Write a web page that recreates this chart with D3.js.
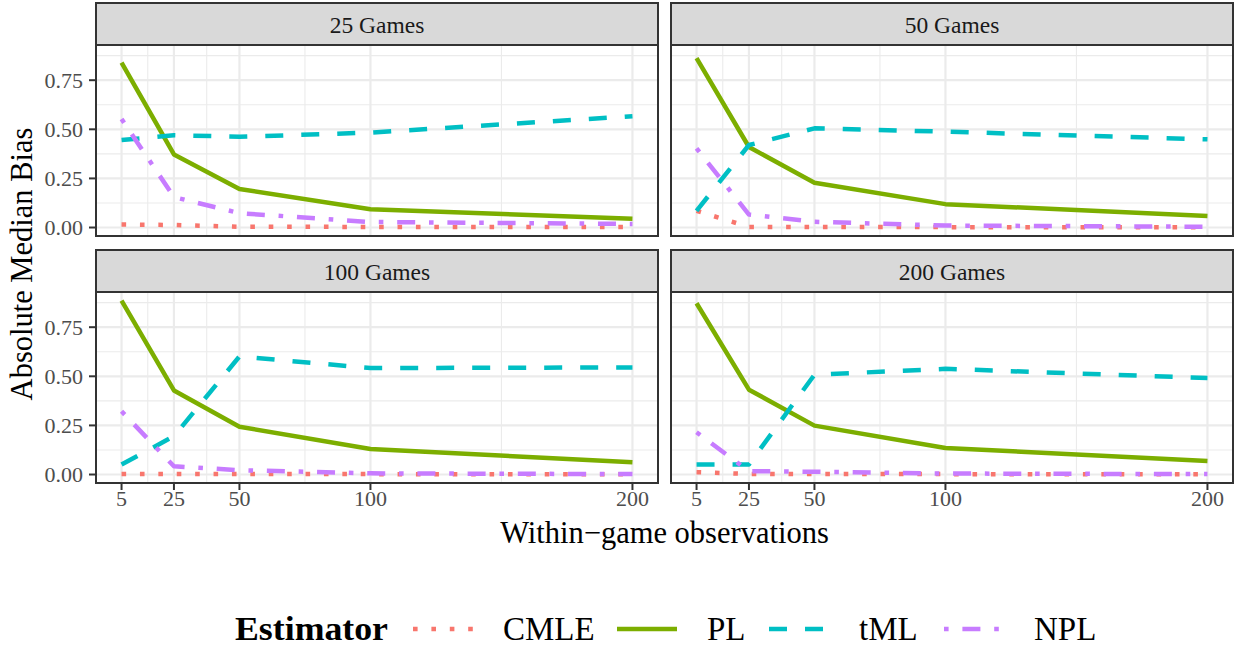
<!DOCTYPE html>
<html>
<head>
<meta charset="utf-8">
<script src="https://cdn.jsdelivr.net/npm/d3@7"></script>
<style>
body { margin: 0; background: #fff; }
svg { display: block; font-family: "Liberation Serif", "DejaVu Serif", serif; }
</style>
</head>
<body>
<svg></svg>
<script>
let obs = [5, 25, 50, 100, 200]
let games = ["25 Games", "50 Games", "100 Games", "200 Games"]
let estimators = ["CMLE", "PL", "tML", "NPL"]

// one row per panel (25, 50, 100, 200 games), one value per obs
let cmle = [
  [0.015, 0.013, 0.004, 0.003, 0.003],
  [0.085, 0.003, 0.002, 0.002, 0.001],
  [0.003, 0.003, 0.002, 0.002, 0.001],
  [0.012, 0.003, 0.002, 0.002, 0.001]
]
let pl = [
  [0.840, 0.372, 0.196, 0.093, 0.045],
  [0.862, 0.410, 0.228, 0.119, 0.058],
  [0.885, 0.428, 0.243, 0.130, 0.062],
  [0.872, 0.432, 0.249, 0.135, 0.069]
]
let tml = [
  [0.445, 0.470, 0.462, 0.483, 0.567],
  [0.085, 0.420, 0.505, 0.488, 0.449],
  [0.051, 0.195, 0.601, 0.542, 0.545],
  [0.051, 0.051, 0.508, 0.538, 0.491]
]
let npl = [
  [0.553, 0.155, 0.073, 0.028, 0.018],
  [0.403, 0.066, 0.029, 0.010, 0.004],
  [0.322, 0.042, 0.022, 0.006, 0.002],
  [0.215, 0.017, 0.014, 0.005, 0.002]
]
let seriesValues = [cmle, pl, tml, npl]

let xBreaks = [5, 25, 50, 100, 200]
let xMinor = [15, 37.5, 75, 150]
let yBreaks = [0, 0.25, 0.5, 0.75]
let yMinor = [0.125, 0.375, 0.625, 0.875]
let yLabels = ["0.00", "0.25", "0.50", "0.75"]

let width = 1236
let height = 648
let colLeft = [96, 671]
let rowTop = [3, 250]
let panelW = 562
let stripH = 42
let panelH = 191

let colors = {CMLE: "#F8766D", PL: "#7CAE00", tML: "#00BFC4", NPL: "#C77CFF"}
let lw = 4.5
let dashes = {CMLE: "4.6,13.8", PL: null, tML: "18,18", NPL: "4.6,13.8,18,13.8"}

let svg = d3.select("svg").attr("width", width).attr("height", height)

let expand = (lo, hi) => { let d = (hi - lo) * 0.05; return [lo - d, hi + d] }

let allVals = seriesValues.flat(2)
let x = d3.scaleLinear().domain(expand(d3.min(obs), d3.max(obs))).range([0, panelW])
let y = d3.scaleLinear().domain(expand(d3.min(allVals), d3.max(allVals))).range([panelH, 0])

let line = d3.line().x((d, i) => x(obs[i])).y(d => y(d))

games.forEach((g, gi) => {
  let col = gi % 2, row = Math.floor(gi / 2)
  let px = colLeft[col], top = rowTop[row]
  let py = top + stripH

  // strip
  let strip = svg.append("g").attr("transform", `translate(${px},${top})`)
  strip.append("rect").attr("width", panelW).attr("height", stripH)
       .attr("fill", "#D9D9D9").attr("stroke", "#333333").attr("stroke-width", 2)
  strip.append("text").attr("x", panelW / 2).attr("y", stripH / 2 + 1)
       .attr("text-anchor", "middle").attr("dominant-baseline", "central")
       .attr("font-size", 23.5).attr("fill", "#1A1A1A").text(g)

  let p = svg.append("g").attr("transform", `translate(${px},${py})`)
  p.append("rect").attr("width", panelW).attr("height", panelH).attr("fill", "#fff")

  p.selectAll(".ymin").data(yMinor).join("line")
   .attr("x1", 0).attr("x2", panelW).attr("y1", d => y(d)).attr("y2", d => y(d))
   .attr("stroke", "#EBEBEB").attr("stroke-width", 1.1)
  p.selectAll(".xmin").data(xMinor).join("line")
   .attr("y1", 0).attr("y2", panelH).attr("x1", d => x(d)).attr("x2", d => x(d))
   .attr("stroke", "#EBEBEB").attr("stroke-width", 1.1)
  p.selectAll(".ymaj").data(yBreaks).join("line")
   .attr("x1", 0).attr("x2", panelW).attr("y1", d => y(d)).attr("y2", d => y(d))
   .attr("stroke", "#EBEBEB").attr("stroke-width", 2.2)
  p.selectAll(".xmaj").data(xBreaks).join("line")
   .attr("y1", 0).attr("y2", panelH).attr("x1", d => x(d)).attr("x2", d => x(d))
   .attr("stroke", "#EBEBEB").attr("stroke-width", 2.2)

  estimators.forEach((e, ei) => {
    p.append("path").datum(seriesValues[ei][gi]).attr("d", line)
     .attr("fill", "none").attr("stroke", colors[e]).attr("stroke-width", lw)
     .attr("stroke-dasharray", dashes[e]).attr("stroke-linecap", "butt")
     .attr("stroke-linejoin", "round")
  })

  p.append("rect").attr("width", panelW).attr("height", panelH)
   .attr("fill", "none").attr("stroke", "#333333").attr("stroke-width", 2)

  if (col == 0) {
    let ya = p.append("g")
    ya.selectAll("line").data(yBreaks).join("line")
      .attr("x1", -7).attr("x2", -1).attr("y1", d => y(d)).attr("y2", d => y(d))
      .attr("stroke", "#333333").attr("stroke-width", 2)
    ya.selectAll("text").data(yBreaks).join("text")
      .attr("x", -13).attr("y", d => y(d)).attr("dominant-baseline", "central")
      .attr("text-anchor", "end").attr("font-size", 22).attr("fill", "#4D4D4D")
      .text((d, i) => yLabels[i])
  }
  if (row == 1) {
    let xa = p.append("g")
    xa.selectAll("line").data(xBreaks).join("line")
      .attr("y1", panelH + 1).attr("y2", panelH + 7).attr("x1", d => x(d)).attr("x2", d => x(d))
      .attr("stroke", "#333333").attr("stroke-width", 2)
    xa.selectAll("text").data(xBreaks).join("text")
      .attr("x", d => x(d)).attr("y", panelH + 23)
      .attr("text-anchor", "middle").attr("font-size", 22).attr("fill", "#4D4D4D")
      .text(d => d)
  }
})

svg.append("text").attr("x", (colLeft[0] + colLeft[1] + panelW) / 2).attr("y", 543)
   .attr("text-anchor", "middle").attr("font-size", 30.5).attr("fill", "#000")
   .text("Within\u2212game observations")

svg.append("text").attr("transform", "rotate(-90)")
   .attr("x", -264).attr("y", 32)
   .attr("text-anchor", "middle").attr("font-size", 30.5).attr("fill", "#000")
   .text("Absolute Median Bias")

// legend
let leg = svg.append("g")
let ly = 629
let keyX = [413, 617, 769, 944]
leg.append("text").attr("x", 235).attr("y", ly + 11)
   .attr("font-size", 34).attr("font-weight", "bold")
   .attr("textLength", 153).attr("lengthAdjust", "spacingAndGlyphs").text("Estimator")
estimators.forEach((e, i) => {
  leg.append("line").attr("x1", keyX[i]).attr("x2", keyX[i] + 60).attr("y1", ly).attr("y2", ly)
     .attr("stroke", colors[e]).attr("stroke-width", lw)
     .attr("stroke-dasharray", dashes[e])
  leg.append("text").attr("x", keyX[i] + 90).attr("y", ly + 11)
     .attr("font-size", 33).text(e)
})
</script>
</body>
</html>
